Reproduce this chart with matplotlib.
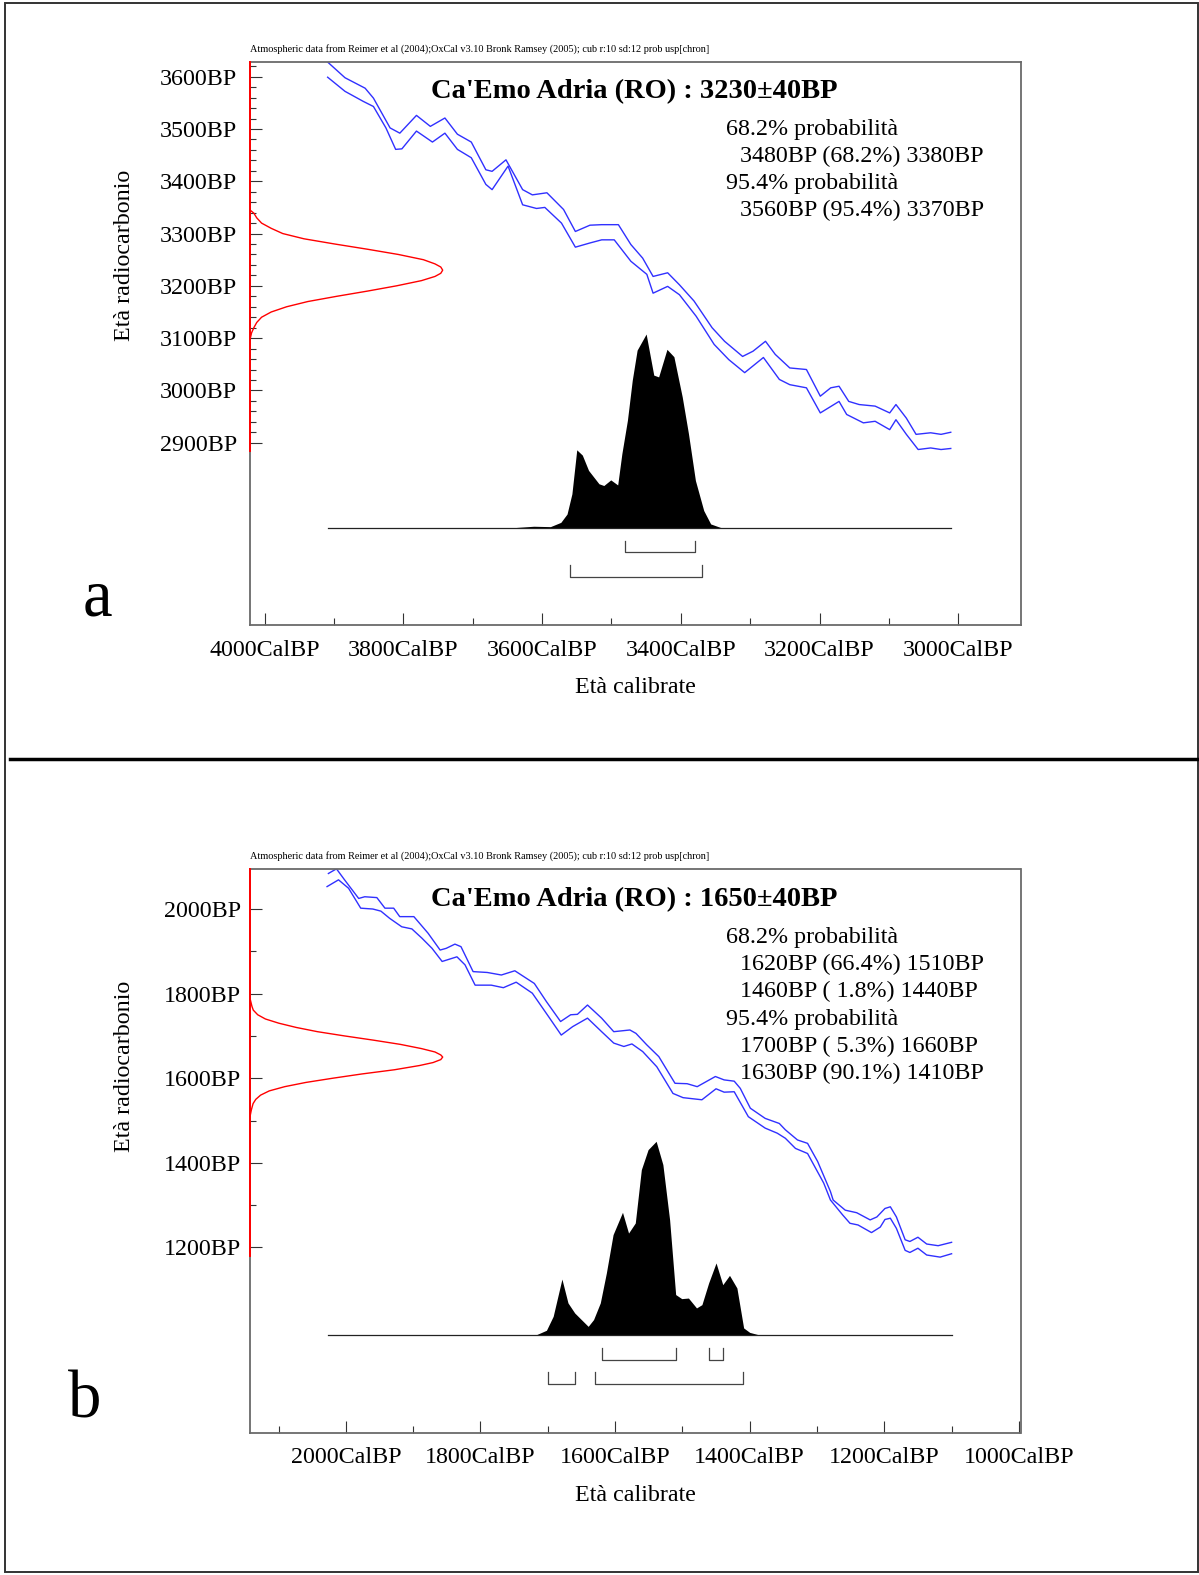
import matplotlib
matplotlib.use('Agg')
import matplotlib.pyplot as plt
from matplotlib.lines import Line2D
from matplotlib.patches import Rectangle

plt.rcParams['font.family'] = ['Liberation Serif', 'DejaVu Serif']

# ---------------- dati pannello a ----------------
a_cal_upper = [3909, 3884, 3855, 3843, 3819, 3805, 3781, 3761, 3740, 3722, 3702, 3681, 3672,
               3652, 3628, 3614, 3593, 3569, 3552, 3531, 3514, 3490, 3472, 3455, 3440, 3419,
               3402, 3381, 3355, 3337, 3311, 3296, 3278, 3264, 3243, 3219, 3199, 3184, 3172,
               3158, 3143, 3120, 3099, 3090, 3075, 3061, 3040, 3025, 3011]
a_age_upper = [3628, 3598, 3578, 3559, 3502, 3492, 3526, 3505, 3521, 3490, 3475, 3422, 3419,
               3441, 3384, 3374, 3378, 3346, 3304, 3316, 3317, 3317, 3279, 3253, 3218, 3225,
               3202, 3171, 3120, 3094, 3065, 3075, 3094, 3069, 3043, 3040, 2989, 3005, 3008,
               2979, 2973, 2970, 2957, 2973, 2947, 2916, 2919, 2916, 2920]
a_cal_lower = [3909, 3884, 3858, 3843, 3825, 3811, 3802, 3781, 3758, 3740, 3722, 3702, 3681,
               3672, 3649, 3628, 3608, 3596, 3572, 3552, 3531, 3514, 3496, 3472, 3449, 3440,
               3419, 3402, 3378, 3352, 3331, 3308, 3281, 3258, 3243, 3219, 3199, 3172, 3161,
               3137, 3120, 3099, 3090, 3075, 3058, 3040, 3025, 3011]
a_age_lower = [3599, 3572, 3553, 3543, 3502, 3461, 3462, 3496, 3475, 3492, 3461, 3445, 3394,
               3384, 3429, 3355, 3348, 3350, 3320, 3274, 3282, 3288, 3288, 3247, 3222, 3186,
               3199, 3183, 3142, 3088, 3059, 3034, 3063, 3021, 3011, 3005, 2957, 2979, 2954,
               2938, 2941, 2925, 2944, 2916, 2887, 2890, 2887, 2889]
a_hist_cal = [3645, 3636, 3612, 3588, 3573, 3564, 3557, 3550, 3542, 3533, 3518, 3511, 3501,
              3491, 3485, 3477, 3470, 3463, 3450, 3439, 3432, 3420, 3410, 3398, 3389, 3379,
              3367, 3357, 3343, 3336]
a_hist_p = [0.0, 0.003, 0.009, 0.007, 0.029, 0.072, 0.176, 0.403, 0.376, 0.297, 0.228, 0.219,
            0.248, 0.222, 0.383, 0.555, 0.762, 0.917, 1.0, 0.788, 0.779, 0.921, 0.883, 0.676,
            0.486, 0.245, 0.090, 0.021, 0.003, 0.0]
a_red_age = [3345, 3339, 3330, 3320, 3310, 3300, 3290, 3280, 3270, 3260, 3250, 3242, 3236,
             3230, 3224, 3218, 3210, 3200, 3190, 3180, 3170, 3160, 3150, 3140, 3130, 3120,
             3110, 3097]
a_red_p = [0.0, 0.02, 0.035, 0.06, 0.11, 0.17, 0.28, 0.44, 0.61, 0.77, 0.90, 0.96, 0.99,
           1.0, 0.99, 0.96, 0.89, 0.76, 0.61, 0.45, 0.30, 0.19, 0.11, 0.06, 0.035, 0.02,
           0.008, 0.0]
a_range68 = [(3480, 3380)]
a_range95 = [(3560, 3370)]
a_title = "Ca'Emo Adria (RO) : 3230±40BP"
a_lines = ["68.2% probabilità", "3480BP (68.2%) 3380BP",
           "95.4% probabilità", "3560BP (95.4%) 3370BP"]
a_xmajor = [4000, 3800, 3600, 3400, 3200, 3000]
a_xminor = [3900, 3700, 3500, 3300, 3100]
a_ymajor = [2900, 3000, 3100, 3200, 3300, 3400, 3500, 3600]
a_yminor = list(range(2900, 3621, 20))

# ---------------- dati pannello b ----------------
b_cal_upper = [2026, 2014, 2002, 1981, 1972, 1954, 1942, 1929, 1920, 1899, 1878, 1860, 1851,
               1838, 1829, 1811, 1790, 1769, 1749, 1720, 1702, 1681, 1666, 1656, 1641, 1620,
               1602, 1590, 1578, 1569, 1553, 1535, 1511, 1493, 1478, 1451, 1438, 1423, 1414,
               1399, 1377, 1356, 1347, 1329, 1314, 1299, 1280, 1276, 1258, 1241, 1221, 1211,
               1199, 1191, 1182, 1169, 1162, 1150, 1137, 1120, 1100]
b_age_upper = [2084, 2095, 2069, 2025, 2029, 2027, 2002, 2002, 1982, 1982, 1943, 1903, 1907,
               1917, 1911, 1852, 1850, 1844, 1854, 1824, 1781, 1734, 1750, 1751, 1773, 1742,
               1710, 1712, 1714, 1706, 1679, 1651, 1588, 1587, 1580, 1604, 1596, 1593, 1576,
               1529, 1505, 1493, 1478, 1454, 1446, 1403, 1332, 1312, 1288, 1282, 1265, 1272,
               1292, 1296, 1272, 1218, 1214, 1224, 1208, 1204, 1212]
b_cal_lower = [2028, 2011, 1996, 1978, 1960, 1948, 1935, 1917, 1902, 1887, 1872, 1857, 1835,
               1823, 1808, 1784, 1766, 1747, 1723, 1699, 1680, 1663, 1641, 1620, 1602, 1587,
               1575, 1559, 1538, 1514, 1499, 1471, 1450, 1438, 1423, 1402, 1377, 1359, 1347,
               1332, 1314, 1290, 1280, 1262, 1251, 1239, 1219, 1206, 1199, 1191, 1182, 1169,
               1162, 1150, 1137, 1117, 1100]
b_age_lower = [2053, 2069, 2049, 2002, 2000, 1995, 1978, 1958, 1953, 1931, 1907, 1876, 1887,
               1868, 1820, 1820, 1814, 1827, 1801, 1746, 1702, 1722, 1742, 1710, 1683, 1675,
               1681, 1663, 1627, 1564, 1554, 1549, 1575, 1567, 1568, 1509, 1482, 1470, 1458,
               1434, 1422, 1352, 1312, 1277, 1257, 1253, 1235, 1248, 1266, 1269, 1245, 1193,
               1188, 1198, 1182, 1177, 1185]
b_hist_cal = [1725, 1717, 1702, 1692, 1679, 1670, 1660, 1640, 1632, 1622, 1613, 1603, 1589,
              1580, 1570, 1561, 1551, 1539, 1529, 1519, 1510, 1501, 1491, 1479, 1471, 1461,
              1450, 1440, 1430, 1419, 1409, 1400, 1387, 1380]
b_hist_p = [0.0, 0.003, 0.026, 0.098, 0.290, 0.167, 0.115, 0.046, 0.081, 0.167, 0.321, 0.519,
            0.634, 0.527, 0.579, 0.854, 0.957, 1.0, 0.880, 0.596, 0.210, 0.189, 0.192, 0.141,
            0.158, 0.270, 0.373, 0.261, 0.309, 0.244, 0.038, 0.015, 0.003, 0.0]
b_red_age = [1789, 1770, 1761, 1750, 1740, 1730, 1720, 1710, 1700, 1690, 1680, 1670, 1662,
             1655, 1650, 1644, 1637, 1630, 1620, 1610, 1600, 1590, 1580, 1570, 1560, 1550,
             1540, 1525, 1509]
b_red_p = [0.0, 0.01, 0.017, 0.04, 0.08, 0.15, 0.24, 0.35, 0.49, 0.64, 0.78, 0.89, 0.96,
           0.99, 1.0, 0.99, 0.95, 0.88, 0.75, 0.58, 0.43, 0.29, 0.18, 0.10, 0.055, 0.03,
           0.016, 0.007, 0.0]
b_range68 = [(1620, 1510), (1460, 1440)]
b_range95 = [(1700, 1660), (1630, 1410)]
b_title = "Ca'Emo Adria (RO) : 1650±40BP"
b_lines = ["68.2% probabilità", "1620BP (66.4%) 1510BP", "1460BP ( 1.8%) 1440BP",
           "95.4% probabilità", "1700BP ( 5.3%) 1660BP", "1630BP (90.1%) 1410BP"]
b_xmajor = [2000, 1800, 1600, 1400, 1200, 1000]
b_xminor = [2100, 1900, 1700, 1500, 1300, 1100]
b_ymajor = [1200, 1400, 1600, 1800, 2000]
b_yminor = [1300, 1500, 1700, 1900]

header = ("Atmospheric data from Reimer et al (2004);OxCal v3.10 Bronk Ramsey (2005); "
          "cub r:10 sd:12 prob usp[chron]")

W, H = 1199, 1575
fig = plt.figure(figsize=(W / 100, H / 100), dpi=100)


def fx(px):
    return px / W


def fy(py):
    return 1 - py / H


def panel(top, height, xlim, ylim, cal_up, age_up, cal_lo, age_lo, hcal, hp,
          red_age, red_p, red_bottom, r68, r95, xmaj, xmin, ymaj, ymin, ypad, xpad):
    left, right = 250, 1020.5
    ax = fig.add_axes([fx(left), fy(top + height), (right - left) / W, height / H])
    ax.set_xlim(xlim)
    ax.set_ylim(ylim)
    dx = (xlim[0] - xlim[1]) / (right - left)   # anni cal per pixel
    dy = (ylim[1] - ylim[0]) / height            # anni BP per pixel

    for s in ax.spines.values():
        s.set_color('#6a6a6a')
        s.set_linewidth(1.3)

    ax.set_xticks(xmaj)
    ax.set_xticklabels([f'{v}CalBP' for v in xmaj])
    ax.set_xticks(xmin, minor=True)
    ax.set_yticks(ymaj)
    ax.set_yticklabels([f'{v}BP' for v in ymaj])
    ax.set_yticks(ymin, minor=True)
    ax.tick_params(which='both', direction='in', top=False, right=False,
                   color='#333333', width=0.8, labelsize=17.3)
    ax.tick_params(axis='x', which='major', length=8.6, pad=xpad)
    ax.tick_params(axis='x', which='minor', length=5)
    ax.tick_params(axis='y', which='major', length=8.4, pad=ypad)
    ax.tick_params(axis='y', which='minor', length=4.3)

    # curva di calibrazione
    ax.plot(cal_up, age_up, color='#3030ff', lw=1.0)
    ax.plot(cal_lo, age_lo, color='#3030ff', lw=1.0)

    # distribuzione radiocarbonica (rossa) sull'asse y
    ax.plot([xlim[0], xlim[0]], [ylim[1], red_bottom], color='red', lw=1.4,
            clip_on=False, zorder=4)
    ax.plot([xlim[0] - p * 192.7 * dx for p in red_p], red_age, color='red', lw=1.0,
            clip_on=False, zorder=4)

    # distribuzione calibrata
    base = ylim[1] - 466 * dy
    ax.fill_between(hcal, base, [base + p * 194 * dy for p in hp], color='black', lw=0,
                    zorder=3)
    ax.plot([cal_up[0], cal_up[-1]], [base, base], color='#222222', lw=0.9, zorder=3)

    # intervalli
    for rows, (t, b) in ((r68, (13, 24.5)), (r95, (37, 49))):
        for c0, c1 in rows:
            yt, yb = base - t * dy, base - b * dy
            ax.plot([c0, c0, c1, c1], [yt, yb, yb, yt], color='#444444', lw=0.9)
    return ax


panel(62, 563, (4020.9, 2910.5), (2551.4, 3628.1), a_cal_upper, a_age_upper,
      a_cal_lower, a_age_lower, a_hist_cal, a_hist_p, a_red_age, a_red_p, 2885,
      a_range68, a_range95, a_xmajor, a_xminor, a_ymajor, a_yminor, 9.4, 11)
panel(869.3, 563.4, (2142.5, 997.6), (761.9, 2093.9), b_cal_upper, b_age_upper,
      b_cal_lower, b_age_lower, b_hist_cal, b_hist_p, b_red_age, b_red_p, 1180,
      b_range68, b_range95, b_xmajor, b_xminor, b_ymajor, b_yminor, 6.5, 10)

# testi
for top, title, lines, letter, lx, ly in ((0, a_title, a_lines, 'a', 97, 599),
                                         (807.3, b_title, b_lines, 'b', 85, 1401)):
    fig.text(fx(250), fy(49 + top), header, fontsize=7.4, va='center', ha='left')
    fig.text(fx(634.5), fy(92 + top), title, fontsize=20.5, fontweight='bold',
             ha='center', va='center')
    step = 26.7 if len(lines) == 4 else 27.3
    for i, s in enumerate(lines):
        x = 726 if 'probabilità' in s else 740
        fig.text(fx(x), fy(130 + top + i * step), s, fontsize=17.3, ha='left', va='center')
    fig.text(fx(125), fy(255 + top + (4 if top else 0)), 'Età radiocarbonio', fontsize=17.3,
             rotation=90, ha='center', va='center')
    fig.text(fx(635), fy(688 + top), 'Età calibrate', fontsize=17.3, ha='center',
             va='center')
    fig.text(fx(lx), fy(ly), letter, fontsize=48, ha='center', va='center')

# cornice e separatore
fig.add_artist(Rectangle((fx(5), fy(1572)), fx(1192.5), (1569) / H, fill=False,
                         edgecolor='#333333', lw=1.4, transform=fig.transFigure))
fig.add_artist(Line2D([fx(10), fx(1197)], [fy(759), fy(759)], color='black', lw=2.5,
                      transform=fig.transFigure))

fig.savefig('out.png', dpi=100)
